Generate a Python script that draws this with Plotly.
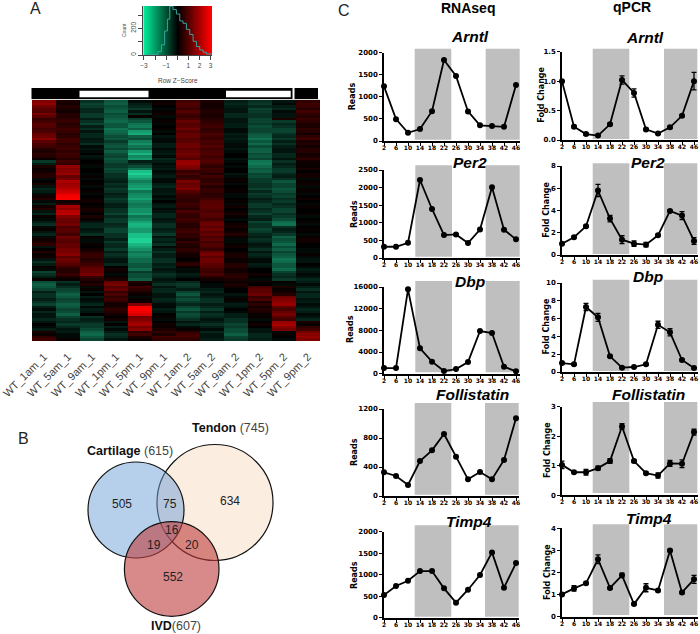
import plotly.graph_objects as go

W, H = 700, 634
def X(p): return p / W
def Y(p): return 1 - p / H

# ---------- Panel A data
sample_labels = ["WT_1am_1","WT_5am_1","WT_9am_1","WT_1pm_1","WT_5pm_1","WT_9pm_1",
                 "WT_1am_2","WT_5am_2","WT_9am_2","WT_1pm_2","WT_5pm_2","WT_9pm_2"]
heat_tenths = [
[14,3,-5,-9,-1,1,7,3,-3,-5,-2,5],[16,2,-7,-10,-3,2,9,2,-4,-6,-1,7],
[12,4,-6,-8,-4,0,8,2,-3,-4,-3,6],[10,3,-4,-9,-6,-1,6,3,-2,-7,-4,4],
[9,2,-4,-10,-2,1,9,4,-2,-6,-1,7],[13,4,-6,-8,-5,2,7,3,-4,-5,-2,5],
[10,4,-6,-9,1,-1,6,3,-4,-5,-2,4],[6,5,-3,-10,-7,0,8,4,-2,-7,3,6],
[7,6,-5,-11,-9,1,11,5,-2,-7,-6,5],[10,4,-7,-9,-12,-1,9,6,-3,-6,-4,3],
[9,5,-3,-9,-13,0,10,7,-3,-8,-5,3],[7,7,-5,-12,-10,1,12,5,-1,-7,-7,5],
[8,6,-2,-11,-16,-1,9,6,-1,-7,-7,4],[11,4,-4,-10,-18,0,11,8,-3,-9,-5,2],
[12,5,-4,-8,-10,-2,11,7,-2,-10,-4,5],[15,7,-2,-9,-8,-1,9,6,-3,-12,-6,7],
[10,7,-3,-6,-13,-1,10,8,-2,-9,-3,3],[8,5,-5,-8,-15,-3,12,7,-1,-11,-5,4],
[7,6,-1,-9,-12,-3,12,9,-1,-8,-3,2],[4,7,-2,-7,-10,-1,10,7,-2,-10,-2,4],
[3,5,-1,-10,-16,-2,11,8,-1,-10,-2,4],[5,7,0,-8,-19,-3,13,9,0,-8,-4,2],
[4,6,-2,-7,-14,-1,11,7,0,-9,-4,3],[1,4,-1,-9,-16,-4,9,8,-2,-7,-2,5],
[-6,7,0,-8,-3,-3,16,9,-1,-12,-5,2],[-3,5,1,-6,-5,-1,17,7,0,-13,-3,1],
[3,16,-1,-6,-8,-2,14,5,-1,-11,-4,1],[1,14,0,-8,-12,-3,12,7,0,-9,-6,3],
[2,15,0,-7,-20,-1,6,6,0,-10,-6,0],[4,17,-1,-5,-22,-2,8,4,-2,-7,-4,2],
[4,11,1,-5,-19,-3,5,7,-1,-8,-3,2],[-1,13,-1,-4,-16,-1,7,5,1,-6,-5,-1],
[0,19,0,-3,-13,-1,13,5,1,-6,-9,1],[3,17,1,-5,-15,-3,11,7,-1,-5,-7,2],
[-2,18,-1,-4,-16,-4,12,4,0,-5,-7,-1],[-4,20,0,-6,-18,-2,14,6,1,-7,-9,1],
[-3,22,1,-5,-12,-2,9,6,1,-4,-8,1],[-1,25,-1,-3,-14,-3,7,4,-1,-6,-6,-1],
[2,27,0,-4,-15,-1,6,5,-1,-5,-7,0],[4,28,1,-6,-17,-2,5,7,0,-3,-5,2],
[-1,2,2,-5,-14,0,5,9,1,-4,-6,0],[-3,4,0,-3,-12,-2,7,10,-1,-6,-4,-1],
[2,18,1,-3,-13,-3,6,10,2,-6,-5,1],[4,16,3,-5,-15,-1,4,9,0,-4,-7,0],
[-2,20,2,-5,-15,-2,8,8,1,-5,-7,0],[-4,21,0,-7,-17,-4,6,10,3,-7,-5,1],
[1,14,3,-4,-12,-4,5,9,1,-4,-6,-1],[-1,12,1,-6,-14,-2,7,7,-1,-3,-8,0],
[-3,11,-2,-6,-17,-3,6,11,0,-7,-11,1],[-5,13,-4,-4,-19,-5,4,12,2,-5,-12,-1],
[-1,8,-4,-5,-18,-5,4,10,3,-5,-5,0],[1,10,-2,-7,-16,-3,6,12,1,-7,-3,1],
[-2,9,-3,-7,-16,-4,7,9,2,-6,-4,0],[-4,7,-5,-5,-20,-6,5,11,4,-4,-6,-1],
[-1,12,1,-5,-20,-2,5,8,1,-3,-10,1],[2,10,-1,-3,-23,-4,3,10,-1,-5,-8,2],
[3,9,-1,-6,-22,-3,6,7,-1,-4,-9,2],[5,11,1,-4,-19,-5,4,9,1,-2,-11,0],
[-2,11,0,-4,-17,-1,3,8,2,-3,-8,0],[0,13,2,-6,-15,-3,5,6,0,-5,-10,-1],
[4,13,4,-3,-12,-5,4,11,1,-2,-7,-1],[1,15,6,-5,-14,-3,2,13,3,-4,-9,1],
[2,10,6,-4,-13,-3,2,10,3,-3,-10,-1],[-2,12,4,-2,-11,-5,0,12,1,-1,-12,-2],
[-5,11,5,-2,-11,-5,3,12,1,-1,-11,-2],[-3,9,7,-4,-9,-3,5,10,4,-3,-9,0],
[1,6,9,0,-9,-4,1,9,4,-2,-9,-1],[-1,4,11,2,-11,-2,-1,7,2,0,-11,-3],
[-7,4,11,1,-6,-3,-1,6,2,0,-7,-2],[-5,6,13,-1,-8,-5,-3,8,4,2,-5,-1],
[-3,3,6,1,-8,-4,-2,4,5,0,-4,-2],[1,1,4,3,-10,-2,0,2,3,-1,-6,-4],
[-8,-5,2,11,4,-3,-4,0,1,2,1,-3],[-10,-3,4,13,2,-5,-6,-1,3,0,-1,-1],
[-9,-5,-1,9,7,-2,-5,-1,2,8,3,-3],[-7,-7,1,11,5,-4,-3,-3,0,10,1,-5],
[-3,-8,-2,6,3,-4,-7,-4,0,10,2,-2],[-5,-10,0,8,1,-2,-9,-2,-2,12,4,-4],
[-5,-9,-3,5,-1,-2,-6,-3,-1,6,12,-4],[-3,-7,-1,7,1,-4,-8,-5,1,8,14,-2],
[-5,-8,-2,4,2,-3,-6,-5,-1,3,15,-3],[-7,-10,-4,2,14,-1,-4,-3,-3,5,17,-1],
[-3,-9,-1,3,27,-1,-7,-4,-2,2,10,-2],[-1,-7,-3,5,28,-3,-9,-6,0,4,8,-4],
[-4,-8,-2,4,26,-2,-6,-3,-1,3,11,-3],[-2,-10,0,2,24,0,-8,-5,-3,1,13,-1],
[-2,-7,-5,0,12,1,-7,-4,-3,1,9,-2],[-4,-5,-3,2,14,-1,-5,-2,-5,-1,7,-4],
[-2,-4,-4,-2,16,0,-2,-3,-5,0,16,3],[0,-6,-6,0,18,2,-4,-5,-7,2,18,1],
[-1,-4,-6,-3,13,1,-1,-3,-6,0,15,5],[-3,-2,-8,-1,15,3,1,-1,-8,-2,13,7],
[3,-3,-10,-3,5,5,5,-4,-8,-2,-1,13],[1,-1,-11,-5,7,3,7,-2,-10,-4,1,15],
[5,-1,-9,-4,3,7,7,-2,-7,-4,0,16],[7,1,-7,-2,1,5,5,-3,-6,-3,-1,14],
]
key_z = [-3.0, -2.0, -1.0, 0.0, 1.0, 2.0, 3.0]
hist_z = [-2.78,-2.19,-1.74,-1.43,-1.14,-0.89,-0.68,-0.39,-0.08,0.22,0.51,0.82,1.12,1.42,1.72,2.02,2.32,2.62,3.1]
hist_count = [5,5,26,77,180,269,366,341,308,256,238,192,154,103,64,38,21,8,0]

# ---------- Panel B data
venn_numbers = ["505", "75", "634", "16", "19", "20", "552"]

# ---------- Panel C data
hours = [2,6,10,14,18,22,26,30,34,38,42,46]
rna_arntl = [1240,495,185,270,675,1834,1475,670,355,340,320,1270]
rna_per2 = [320,320,430,2216,1392,650,670,426,810,2008,805,530]
rna_dbp = [1046,1046,15570,4680,2215,490,860,2150,7880,7500,1290,430]
rna_foll = [326,276,152,483,630,855,543,230,331,230,497,1071]
rna_timp4 = [527,736,860,1085,1085,682,349,651,992,1519,698,1271]
q_arntl = [1.0,0.226,0.10,0.075,0.266,1.02,0.80,0.18,0.11,0.215,0.41,1.0]
q_arntl_err = [0.01,0.02,0.02,0.01,0.02,0.07,0.07,0.02,0.01,0.02,0.02,0.15]
q_per2 = [1.02,1.6,2.58,5.8,3.27,1.38,1.02,0.93,1.77,3.96,3.54,1.26]
q_per2_err = [0.05,0.1,0.1,0.55,0.3,0.35,0.25,0.2,0.1,0.1,0.35,0.3]
q_dbp = [1.0,0.86,7.3,6.14,1.76,0.49,0.56,0.86,5.3,4.46,1.35,0.45]
q_dbp_err = [0.1,0.1,0.4,0.45,0.1,0.05,0.05,0.1,0.4,0.4,0.1,0.05]
q_foll = [1.03,0.78,0.78,0.92,1.16,2.33,1.16,0.75,0.67,1.08,1.07,2.14]
q_foll_err = [0.13,0.03,0.1,0.07,0.08,0.1,0.05,0.03,0.09,0.1,0.13,0.1]
q_timp4 = [1.01,1.28,1.51,2.6,1.3,1.87,0.57,1.31,1.19,2.99,1.1,1.69]
q_timp4_err = [0.02,0.12,0.05,0.2,0.05,0.1,0.05,0.18,0.05,0.05,0.05,0.18]
genes = ["Arntl", "Per2", "Dbp", "Follistatin", "Timp4"]

colorscale = [[0, "#00e696"], [0.5, "#000000"], [1, "#ff0000"]]
heat_min, heat_max = -2.2, 2.8
heat_scale = [[0, "#1ed296"], [-heat_min / (heat_max - heat_min), "#000000"], [1, "#ff0000"]]
fig = go.Figure()
layout = {}
shapes = []
ann = []

def text(x, y, s, size=10, color="#000", family="Liberation Sans", angle=0):
    ann.append(dict(x=X(x), y=Y(y), xref="paper", yref="paper", text=s, showarrow=False,
                    font=dict(size=size, color=color, family=family), textangle=angle,
                    xanchor="center", yanchor="middle", borderpad=0, borderwidth=0))

def rect(x0, y0, x1, y1, color):
    shapes.append(dict(type="rect", xref="paper", yref="paper", x0=X(x0), x1=X(x1), y0=Y(y1), y1=Y(y0),
                       fillcolor=color, line=dict(width=0), layer="below"))

# ---- heatmap
fig.add_trace(go.Heatmap(z=[[v / 10 for v in r] for r in heat_tenths], x=sample_labels, colorscale=heat_scale,
                         zmin=heat_min, zmax=heat_max, showscale=False, xaxis="x", yaxis="y", hoverinfo="skip"))
layout["xaxis"] = dict(domain=[X(32), X(320)], anchor="y", tickangle=-45, tickfont=dict(size=11, color="#444", family="Liberation Sans"),
                       ticks="outside", ticklen=4, tickcolor="rgba(0,0,0,0)", showgrid=False, zeroline=False,
                       showline=False, tickmode="array", tickvals=sample_labels, ticktext=sample_labels, automargin=False)
layout["yaxis"] = dict(domain=[Y(341), Y(100)], anchor="x", autorange="reversed", showticklabels=False,
                       ticks="", showgrid=False, zeroline=False, showline=False, automargin=False)

# side colour bar
rect(31.5, 88, 292.5, 99, "#000")
rect(79.5, 90.7, 148.5, 97.3, "#fff")
rect(226, 90.7, 290.7, 97.3, "#fff")
rect(294.5, 88, 318, 99, "#000")
rect(32, 99, 320, 99.6, "#bbb")

# ---- colour key
fig.add_trace(go.Heatmap(z=[key_z, key_z], x=key_z, y=[0, 368], colorscale=colorscale, zmin=-3, zmax=3, zsmooth="best",
                         showscale=False, xaxis="x2", yaxis="y2", hoverinfo="skip"))
fig.add_trace(go.Scatter(x=hist_z, y=hist_count, mode="lines", line=dict(color="#35a5a0", width=1, shape="hv"),
                         xaxis="x2", yaxis="y2", hoverinfo="skip", showlegend=False))
keyfont = dict(size=6.5, color="#444", family="Liberation Sans")
layout["xaxis2"] = dict(domain=[X(143.3), X(212)], range=[-3.06, 3.12], anchor="y2", tickmode="array",
                        tickvals=key_z, ticktext=["−3", "", "−1", "", "1", "2", "3"], tickfont=keyfont,
                        ticks="outside", ticklen=4, tickcolor="#444", tickwidth=0.7, showgrid=False, zeroline=False,
                        showline=True, linecolor="#444", linewidth=0.7, automargin=False)
layout["yaxis2"] = dict(domain=[Y(55), Y(6)], range=[0, 368], anchor="x2", tickmode="array",
                        tickvals=[0, 100, 200, 300], ticktext=["0", "", "200", ""], tickangle=-90, tickfont=keyfont,
                        ticks="outside", ticklen=4, tickcolor="#444", tickwidth=0.7, showgrid=False, zeroline=False,
                        showline=True, linecolor="#444", linewidth=0.7, automargin=False)
text(124, 30, "Count", 5, "#444", angle=-90)
text(177.7, 80.7, "Row Z−Score", 6.5, "#444")

# ---- Venn
def circle(cx, cy, r, color):
    shapes.append(dict(type="circle", xref="paper", yref="paper", x0=X(cx - r), x1=X(cx + r), y0=Y(cy + r), y1=Y(cy - r),
                       fillcolor=color, line=dict(color="#111", width=1.2), layer="above"))
circle(215, 502.5, 58, "rgba(250,220,195,0.5)")
circle(136, 510, 48, "rgba(110,160,215,0.5)")
circle(171.7, 569, 47.3, "rgba(190,60,60,0.6)")
venn_pos = [(122, 504), (170, 504), (230, 500.7), (172, 530), (154, 545), (191.7, 545), (172.7, 576.7)]
for (vx, vy), n in zip(venn_pos, venn_numbers):
    text(vx, vy, n, 12, "#222")
text(230, 427.7, "<b>Tendon</b> <span style='color:#444'>(745)</span>", 12.5, "#111")
text(129.7, 450.7, "<b>Cartilage</b> <span style='color:#444'>(615)</span>", 12.5, "#111")
text(176, 625.7, "<b>IVD</b><span style='color:#444'>(607)</span>", 12.5, "#111")

# ---- line panels
rna_specs = [
    (rna_arntl, [0,500,1000,1500,2000], 384, 520, 52.7, 141, 48.7, 139.7, (414.7,451.3,485.7,519.7), (470.3,36.7), (353.3,96)),
    (rna_per2, [0,500,1000,1500,2000,2500], 384, 520, 170, 258, 165.3, 256.7, (415.3,452,485.7,519.7), (470,163), (354,214)),
    (rna_dbp, [0,4000,8000,12000,16000], 384, 520, 287, 373.7, 281, 372.3, (415.3,452,485.7,519.7), (469.5,281.7), (350,329)),
    (rna_foll, [0,400,800,1200], 384, 519, 409, 496, 403, 494.7, (414.7,451.3,485,518.7), (472,394), (354,452)),
    (rna_timp4, [0,500,1000,1500,2000], 384, 519, 531.7, 617.7, 525.3, 616.7, (414.7,451.3,485,518.7), (469,521), (354,575)),
]
q_specs = [
    (q_arntl, q_arntl_err, [0,0.5,1.0,1.5], 562, 698, 51.7, 140, 48.7, 139, (592.7,629.3,664,697.3), (645,38), (541.7,95), "0.0"),
    (q_per2, q_per2_err, [0,2,4,6,8], 562, 698, 166, 255, 163.3, 254, (592.7,629.3,664,697.3), (648,163), (546.7,210), "d"),
    (q_dbp, q_dbp_err, [0,2,4,6,8,10], 562, 698, 283, 372, 279.7, 371, (592.7,629.3,664,697.3), (648,276.7), (546.7,326.7), "d"),
    (q_foll, q_foll_err, [0,1,2,3], 562, 698, 406.7, 495.3, 402, 493, (592.7,629.3,664,697.3), (648,394), (547,450), "d"),
    (q_timp4, q_timp4_err, [0,1,2,3,4], 562, 698, 528.3, 616.7, 524.3, 615, (592.7,629.3,664,697.3), (648.7,518), (547,572), "d"),
]
xtickfont = dict(size=6, color="#000", family="DejaVu Sans", weight="bold")
ytickfont = dict(size=7, color="#000", family="DejaVu Sans", weight="bold")
axis_n = 3

def panel(vals, err, yticks, x0, x1, ytop, ybot, btop, bbot, bands, ttl, gene, ylab_pos, ylab, fmt, n):
    xn, yn = ("x%d" % n, "y%d" % n)
    for bx0, bx1 in (bands[:2], bands[2:]):
        rect(bx0, btop, bx1, bbot, "#bfbfbf")
    tr = dict(x=hours, y=vals, mode="lines+markers", line=dict(color="#000", width=1.8),
              marker=dict(color="#000", size=6), xaxis=xn, yaxis=yn, hoverinfo="skip", showlegend=False, cliponaxis=False)
    if err is not None:
        tr["error_y"] = dict(type="data", array=err, visible=True, color="#000", thickness=1.3, width=2.5)
    fig.add_trace(go.Scatter(**tr))
    xmax = 2 + (x1 - x0) / 3.0
    layout["xaxis%d" % n] = dict(domain=[X(x0), X(x1)], range=[2, xmax], anchor=yn, tickmode="array", tickvals=hours,
                                 ticktext=[str(h) for h in hours], tickfont=xtickfont, tickangle=0, ticks="outside", ticklen=3, tickwidth=1.2,
                                 ticklabelstandoff=-3,
                                 tickcolor="#000", showgrid=False, zeroline=False, showline=True, linecolor="#000", linewidth=1.6, automargin=False)
    ytxt = [("%.1f" % v) if fmt == "0.0" else str(v) for v in yticks]
    layout["yaxis%d" % n] = dict(domain=[Y(ybot), Y(ytop)], range=[0, yticks[-1]], anchor=xn, tickmode="array", tickvals=yticks,
                                 ticktext=ytxt, tickfont=ytickfont, ticks="outside", ticklen=3, tickwidth=1.2, tickcolor="#000",
                                 showgrid=False, zeroline=False, showline=True, linecolor="#000", linewidth=1.6, automargin=False)
    text(ttl[0], ttl[1], "<b><i>%s</i></b>" % gene, 15.5, "#000")
    text(ylab_pos[0], ylab_pos[1], "<b>%s</b>" % ylab, 8, "#000", "DejaVu Sans", angle=-90)

for g, s in zip(genes, rna_specs):
    panel(s[0], None, s[1], s[2], s[3], s[4], s[5], s[6], s[7], s[8], s[9], g, s[10], "Reads", "d", axis_n)
    axis_n += 1
for g, s in zip(genes, q_specs):
    panel(s[0], s[1], s[2], s[3], s[4], s[5], s[6], s[7], s[8], s[9], s[10], g, s[11], "Fold Change", s[12], axis_n)
    axis_n += 1

text(468, 8, "<b>RNAseq</b>", 14, "#000")
text(632, 7, "<b>qPCR</b>", 14, "#000")
text(35.5, 8, "A", 16, "#222")
text(344, 10, "C", 16, "#222")
text(23.5, 438, "B", 16, "#222")

fig.update_layout(template="none", width=W, height=H, margin=dict(l=0, r=0, t=0, b=0, pad=0, autoexpand=False), paper_bgcolor="#fff", plot_bgcolor="rgba(0,0,0,0)",
                  showlegend=False, shapes=shapes, annotations=ann, **layout)
fig.write_html("out.html", config=dict(displayModeBar=False), post_script="document.body.style.margin='0';")
